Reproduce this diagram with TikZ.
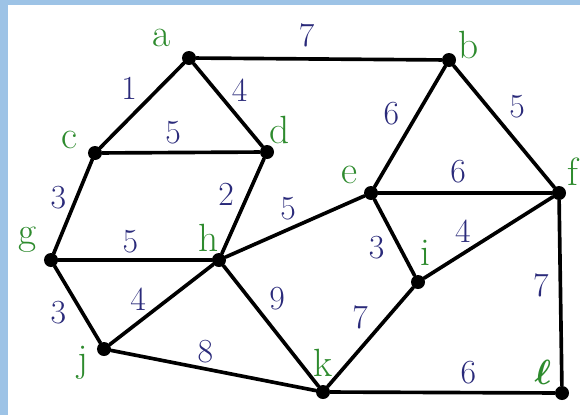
\documentclass[tikz,border=0pt]{standalone}
\usepackage{amsmath}
\usetikzlibrary{positioning}
\definecolor{vgreen}{HTML}{2E8B2E}
\definecolor{wnavy}{HTML}{2A2A7A}
\definecolor{bandblue}{HTML}{9DC3E6}

\begin{document}
\begin{tikzpicture}[x=0.025cm,y=-0.025cm,
  dot/.style={circle,fill=black,inner sep=0pt,minimum size=3.5mm},
  vl/.style={font=\fontsize{28}{28}\selectfont,text=vgreen,inner sep=0pt,anchor=center},
  wt/.style={font=\fontsize{24}{24}\selectfont,text=wnavy,inner sep=0pt},
  ln/.style={line width=2.6pt,line cap=round}]
  % frame
  \useasboundingbox (0,0) rectangle (580,415);
  \fill[bandblue] (0,0) rectangle (580,5);
  \fill[bandblue] (0,0) rectangle (8,415);
  % vertices
  \node[dot,label={[vl,label distance=18.9pt]143.5:a}] (a) at (189,58) {};
  \node[dot,label={[vl,label distance=12.2pt]38:b}] (b) at (449,60) {};
  \node[dot,label={[vl,label distance=15.1pt]152.5:c}] (c) at (95,153) {};
  \node[dot,label={[vl,label distance=12.9pt]61.4:d}] (d) at (267,152) {};
  \node[dot,label={[vl,label distance=14.7pt]139.4:e}] (e) at (371,193) {};
  \node[dot,label={[vl,label distance=12.9pt]56.3:f}] (f) at (559,193) {};
  \node[dot,label={[vl,label distance=16.7pt]139:g}] (g) at (51,260) {};
  \node[dot,label={[vl,label distance=12.5pt]116.6:h}] (h) at (219,260) {};
  \node[dot,label={[vl,label distance=16.2pt]76.4:i}] (i) at (418,282) {};
  \node[dot,label={[vl,label distance=12.9pt]213.7:j}] (j) at (104,349) {};
  \node[dot,label={[vl,label distance=15.6pt]90:k}] (k) at (323,392) {};
  \node[dot,label={[vl,label distance=14.6pt]133.5:$\boldsymbol{\ell}$}] (l) at (562,393) {};
  % edges
  \draw[ln] (a) -- node[wt,pos=0.45,above=7pt] {7} (b);
  \draw[ln] (a) -- node[wt,pos=0.48,above left=1.5pt and 3.5pt] {1} (c);
  \draw[ln] (a) -- node[wt,pos=0.48,above right=0pt and 2.5pt] {4} (d);
  \draw[ln] (c) -- node[wt,pos=0.45,above=4.5pt] {5} (d);
  \draw[ln] (b) -- node[wt,pos=0.39,left=12pt] {6} (e);
  \draw[ln] (b) -- node[wt,pos=0.34,right=14pt] {5} (f);
  \draw[ln] (e) -- node[wt,pos=0.46,above=6pt] {6} (f);
  \draw[ln] (c) -- node[wt,pos=0.41,left=6pt] {3} (g);
  \draw[ln] (d) -- node[wt,pos=0.38,left=8.8pt] {2} (h);
  \draw[ln] (h) -- node[wt,pos=0.45,above=5.5pt] {5} (e);
  \draw[ln] (g) -- node[wt,pos=0.47,above=4pt] {5} (h);
  \draw[ln] (e) -- node[wt,pos=0.63,left=9.6pt] {3} (i);
  \draw[ln] (i) -- node[wt,pos=0.38,above left=2pt and 0.5pt] {4} (f);
  \draw[ln] (g) -- node[wt,pos=0.6,left=10pt] {3} (j);
  \draw[ln] (h) -- node[wt,pos=0.62,above left=1pt and 1pt] {4} (j);
  \draw[ln] (h) -- node[wt,pos=0.38,above right=0pt and 5.7pt] {9} (k);
  \draw[ln] (i) -- node[wt,pos=0.44,above left=0pt and 4.2pt] {7} (k);
  \draw[ln] (j) -- node[wt,pos=0.46,above=3pt] {8} (k);
  \draw[ln] (k) -- node[wt,pos=0.615,above=5pt] {6} (l);
  \draw[ln] (f) -- node[wt,pos=0.46,left=7pt] {7} (l);
\end{tikzpicture}
\end{document}
